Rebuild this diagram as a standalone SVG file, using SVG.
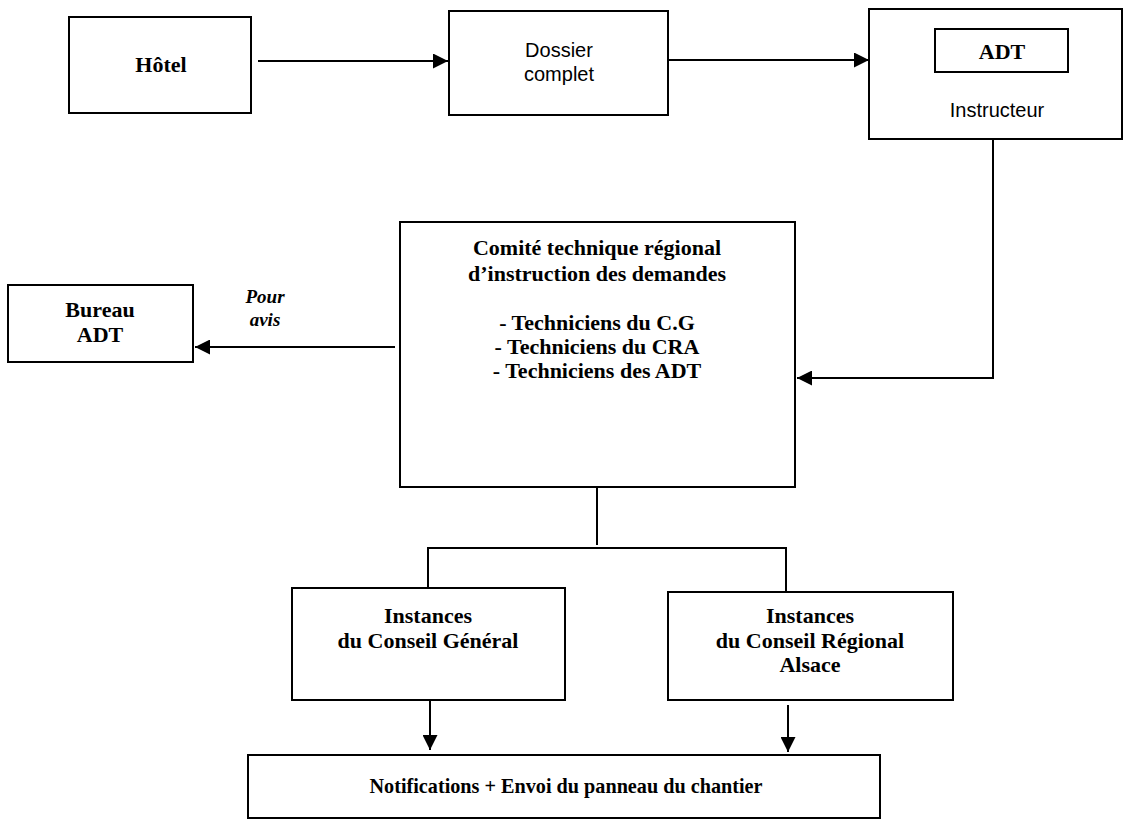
<svg xmlns="http://www.w3.org/2000/svg" width="1145" height="820" viewBox="0 0 1145 820">
<style>
.box{fill:#fff;stroke:#000;stroke-width:2}
.ln{fill:none;stroke:#000;stroke-width:2}
.tb{font-family:"Liberation Serif",serif;font-weight:bold;font-size:22px;fill:#000;text-anchor:middle}
.ts{font-family:"Liberation Sans",sans-serif;font-size:20px;fill:#000;text-anchor:middle}
.ti{font-family:"Liberation Serif",serif;font-weight:bold;font-style:italic;font-size:19px;fill:#000;text-anchor:middle}
</style>
<defs>
<marker id="ahb" viewBox="0 0 10 10" refX="10" refY="5" markerWidth="15" markerHeight="15" markerUnits="userSpaceOnUse" orient="auto">
<path d="M0,0 L10,5 L0,10 z" fill="#000"/>
</marker>
</defs>
<g id="connectors">
<path class="ln" d="M258,61 H448" marker-end="url(#ahb)"/>
<path class="ln" d="M668,60 H869" marker-end="url(#ahb)"/>
<path class="ln" d="M993,139 V378 H797" marker-end="url(#ahb)"/>
<path class="ln" d="M395,347 H195" marker-end="url(#ahb)"/>
<path class="ln" d="M597,487 V545 M428,588 V548 H786 V592"/>
<path class="ln" d="M430,700 V750" marker-end="url(#ahb)"/>
<path class="ln" d="M788,705 V752" marker-end="url(#ahb)"/>
<text class="ti" x="265" y="303">Pour</text>
<text class="ti" x="265" y="326">avis</text>
</g>
<g id="hotel">
<rect class="box" x="69" y="17" width="182" height="96"/>
<text class="tb" x="161" y="72">Hôtel</text>
</g>
<g id="dossier">
<rect class="box" x="449" y="11" width="219" height="104"/>
<text class="ts" x="559" y="57">Dossier</text>
<text class="ts" x="559" y="81">complet</text>
</g>
<g id="adt">
<rect class="box" x="869" y="9" width="253" height="130"/>
<rect class="box" x="935" y="29" width="133" height="43"/>
<text class="tb" x="1002" y="59">ADT</text>
<text class="ts" x="997" y="117">Instructeur</text>
</g>
<g id="comite">
<rect class="box" x="400" y="222" width="395" height="265"/>
<text class="tb" x="597" y="255">Comité technique régional</text>
<text class="tb" x="597" y="281">d’instruction des demandes</text>
<text class="tb" x="597" y="330">- Techniciens du C.G</text>
<text class="tb" x="597" y="354">- Techniciens du CRA</text>
<text class="tb" x="597" y="378">- Techniciens des ADT</text>
</g>
<g id="bureau">
<rect class="box" x="8" y="285" width="185" height="77"/>
<text class="tb" x="100" y="317">Bureau</text>
<text class="tb" x="100" y="342">ADT</text>
</g>
<g id="cg">
<rect class="box" x="292" y="588" width="273" height="112"/>
<text class="tb" x="428" y="623">Instances</text>
<text class="tb" x="428" y="648">du Conseil Général</text>
</g>
<g id="cra">
<rect class="box" x="668" y="592" width="285" height="108"/>
<text class="tb" x="810" y="623">Instances</text>
<text class="tb" x="810" y="648">du Conseil Régional</text>
<text class="tb" x="810" y="672">Alsace</text>
</g>
<g id="notif">
<rect class="box" x="248" y="755" width="632" height="63"/>
<text class="tb" x="566" y="793" textLength="393" lengthAdjust="spacingAndGlyphs">Notifications + Envoi du panneau du chantier</text>
</g>
</svg>
